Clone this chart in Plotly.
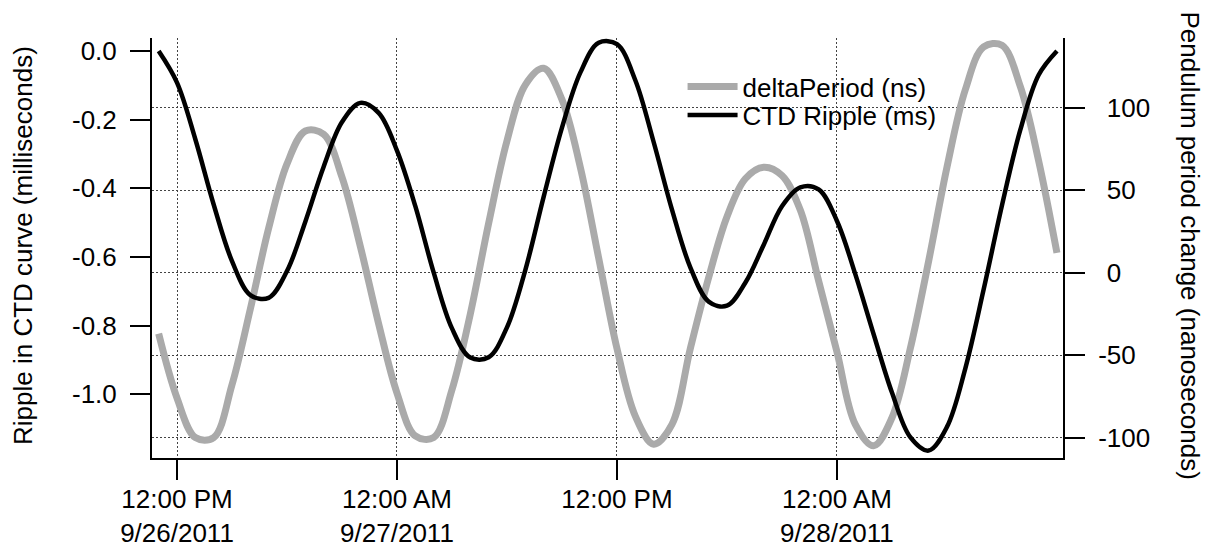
import plotly.graph_objects as go
import pandas as pd

# hourly sample times, 11:00 9/26/2011 .. 12:00 9/28/2011
times = pd.date_range("2011-09-26 11:00", "2011-09-28 12:00", freq="h")

# CTD Ripple (ms)
ctd_ripple_ms = [
    0.0, -0.092, -0.257, -0.447, -0.612, -0.711, -0.719, -0.641, -0.497, -0.337,
    -0.207, -0.151, -0.180, -0.290, -0.452, -0.645, -0.808, -0.893, -0.892, -0.805,
    -0.638, -0.425, -0.223, -0.063, 0.024, 0.020, -0.085, -0.265, -0.462, -0.630,
    -0.730, -0.742, -0.675, -0.565, -0.452, -0.397, -0.403, -0.495, -0.650, -0.825,
    -0.995, -1.125, -1.164, -1.095, -0.925, -0.695, -0.450, -0.230, -0.070, 0.0,
]

# deltaPeriod (ns)
delta_period_ns = [
    -37, -76, -100, -100, -68, -22, 27, 66, 86, 84,
    58, 16, -31, -73, -99, -100, -71, -25, 30, 80,
    114, 124, 105, 64, 9, -46, -87, -104, -92, -46,
    -3, 34, 57, 64, 59, 38, -5, -48, -92, -105,
    -88, -46, 7, 64, 111, 137, 138, 113, 68, 12,
]

x_tick_vals = ["2011-09-26 12:00", "2011-09-27 00:00", "2011-09-27 12:00", "2011-09-28 00:00"]
x_tick_text = ["12:00 PM<br>9/26/2011", "12:00 AM<br>9/27/2011", "12:00 PM", "12:00 AM<br>9/28/2011"]
ms_tick_vals = [0.0, -0.2, -0.4, -0.6, -0.8, -1.0]
ms_tick_text = ["0.0", "-0.2", "-0.4", "-0.6", "-0.8", "-1.0"]
ns_tick_vals = [100, 50, 0, -50, -100]
ns_tick_text = ["100", "50", "0", "-50", "-100"]

# keep digits aligned with a hidden minus on the non-negative right-hand labels
HIDDEN_MINUS = '<span style="color:rgba(0,0,0,0)">-</span>'
ns_tick_labels = [t if t.startswith("-") else HIDDEN_MINUS + t for t in ns_tick_text]

FONT = "Liberation Sans, Arial, Helvetica, sans-serif"
GRID = dict(showgrid=True, gridcolor="#444444", gridwidth=1, griddash="2px,2px")

fig = go.Figure()
fig.add_trace(go.Scatter(
    x=times, y=delta_period_ns, name="deltaPeriod (ns)", mode="lines",
    yaxis="y", legend="legend",
    line=dict(color="#aaaaaa", width=7, shape="spline"),
))
fig.add_trace(go.Scatter(
    x=times, y=ctd_ripple_ms, name="CTD Ripple (ms)", mode="lines",
    yaxis="y2", legend="legend2",
    line=dict(color="black", width=4.5, shape="spline"),
))

axis_common = dict(ticks="outside", ticklen=20, tickwidth=2, tickcolor="black",
                   showline=True, linewidth=2, linecolor="black", zeroline=False,
                   automargin=False,
                   tickfont=dict(family=FONT, size=26, color="black"))

legend_common = dict(xanchor="left", yanchor="middle", bgcolor="rgba(0,0,0,0)", borderwidth=0,
                     itemwidth=50, visible=True, font=dict(family=FONT, size=26, color="black"))

fig.update_layout(
    width=1209, height=548,
    margin=dict(l=152, r=146, t=38, b=90, autoexpand=False),
    paper_bgcolor="white", plot_bgcolor="white",
    showlegend=True,
    font=dict(family=FONT, size=26, color="black"),
    xaxis=dict(type="date", range=["2011-09-26 10:38:11", "2011-09-28 12:19:48"],
               tickmode="array", tickvals=x_tick_vals, ticktext=x_tick_text,
               ticklabelstandoff=-3, **GRID, **axis_common),
    yaxis=dict(side="right", range=[-112.4, 142.4], tickmode="array",
               tickvals=ns_tick_vals, ticktext=ns_tick_labels, ticklabelstandoff=8,
               **GRID, **axis_common),
    yaxis2=dict(side="left", overlaying="y", range=[-1.1856, 0.038], tickmode="array",
                tickvals=ms_tick_vals, ticktext=ms_tick_text, showgrid=False,
                ticklabelstandoff=8, **axis_common),
    legend=dict(x=0.5824, y=0.884, **legend_common),
    legend2=dict(x=0.5824, y=0.8167, **legend_common),
    # white legend backing, drawn over the grid but under the curves
    shapes=[dict(type="rect", xref="paper", yref="paper", layer="between",
                 x0=0.5796, x1=0.8595, y0=0.7762, y1=0.9833,
                 fillcolor="white", line=dict(width=0))],
    annotations=[
        dict(text="Ripple in CTD curve (milliseconds)", textangle=-90,
             xref="paper", yref="paper", x=-0.1416, y=0.5048,
             xanchor="center", yanchor="middle", showarrow=False,
             font=dict(family=FONT, size=26, color="black")),
        dict(text="Pendulum period change (nanoseconds)", textangle=90,
             xref="paper", yref="paper", x=1.1394, y=0.506,
             xanchor="center", yanchor="middle", showarrow=False,
             font=dict(family=FONT, size=26, color="black")),
    ],
)

fig.write_html("out.html")
